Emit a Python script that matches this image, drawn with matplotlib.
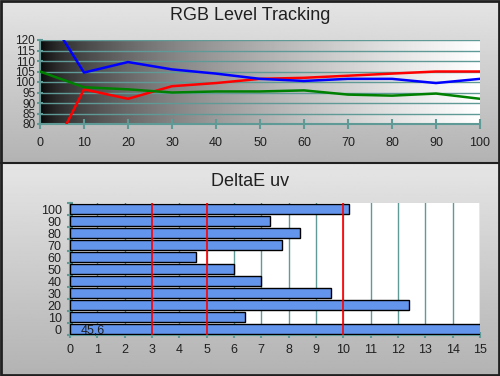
import numpy as np
import matplotlib
matplotlib.use("Agg")
import matplotlib.pyplot as plt
from matplotlib.lines import Line2D

plt.rcParams['font.family'] = ['Liberation Sans', 'DejaVu Sans']

# data
levels = [0, 10, 20, 30, 40, 50, 60, 70, 80, 90, 100]
red_vals = [55, 96.5, 92, 98, 99.5, 101.5, 102, 103, 104, 105, 105]
green_vals = [105, 97.5, 96.5, 95, 95.5, 95.5, 96, 94, 93.5, 94.5, 92]
blue_vals = [138, 104.5, 109.5, 106, 104, 101.5, 100.5, 101.5, 101.5, 99.5, 101.5]

de_labels = ["0", "10", "20", "30", "40", "50", "60", "70", "80", "90", "100"]
de_vals = [45.6, 6.4, 12.4, 9.55, 7.0, 6.0, 4.6, 7.75, 8.4, 7.3, 10.2]
ref_lines = [3, 5, 10]

teal = "#5f9a96"
W, H = 500, 376
fig = plt.figure(figsize=(W / 100, H / 100), dpi=100)

# panel backgrounds (grey gradients, light at top)
grad = np.linspace(1, 0, 256).reshape(-1, 1)
for rect in ([0, 1 - 163 / H, 1, 163 / H], [0, 0, 1, 1 - 163 / H]):
    bg = fig.add_axes(rect, zorder=-10)
    bg.imshow(grad, aspect="auto", cmap="gray", vmin=-3.5, vmax=1.5,
              extent=[0, 1, 0, 1])
    bg.axis("off")

# borders
fig.add_artist(Line2D([0, 1], [1 - 163 / H] * 2, color="#202020", lw=1.5))
fig.add_artist(plt.Rectangle((0.002, 0.003), 0.996, 0.994, fill=False,
                             ec="#202020", lw=2, transform=fig.transFigure))

# ---- RGB Level Tracking ----
ax1 = fig.add_axes([40 / W, 1 - 124 / H, 440 / W, 84 / H])
xs = np.linspace(0, 1, 400)
ax1.imshow((xs ** 0.55).reshape(1, -1), aspect="auto", cmap="gray",
           vmin=0, vmax=1, extent=[0, 100, 80, 120], zorder=0)
ax1.plot(levels, red_vals, color="#ff0000", lw=1.8, zorder=3)
ax1.plot(levels, green_vals, color="#008000", lw=1.8, zorder=3)
ax1.plot(levels, blue_vals, color="#0000ff", lw=1.8, zorder=4)
ax1.set_xlim(0, 100)
ax1.set_ylim(80, 120)
ax1.set_xticks(levels)
ax1.set_yticks(range(80, 121, 5))
for y in range(85, 121, 5):
    ax1.axhline(y, color=teal, lw=1, zorder=2)
for s in ["top", "right"]:
    ax1.spines[s].set_visible(False)
for s in ["left", "bottom"]:
    ax1.spines[s].set_color(teal)
    ax1.spines[s].set_linewidth(1.5)
ax1.tick_params(axis="x", direction="inout", length=7, width=1.5, color=teal,
                labelsize=9, pad=6, labelcolor="#202020")
ax1.tick_params(axis="y", direction="inout", length=5, width=1.5, color=teal,
                labelsize=8.5, pad=1, labelcolor="#202020")
fig.text(0.5, 1 - 15 / H, "RGB Level Tracking", ha="center", va="center",
         fontsize=13, color="#202020")

# ---- DeltaE uv ----
ax2 = fig.add_axes([70 / W, 1 - 335 / H, 410 / W, 132 / H])
ax2.set_facecolor("white")
pos = np.arange(len(de_vals))
ax2.barh(pos, de_vals, height=0.8, color="#6495ed", edgecolor="black",
         lw=1, zorder=3)
for r in ref_lines:
    ax2.axvline(r, color="#ff0000", lw=1.2, zorder=4)
ax2.set_xlim(0, 15)
ax2.set_ylim(-0.5, len(de_vals) - 0.5)
ax2.set_xticks(range(0, 16))
ax2.grid(axis="x", color=teal, lw=1, zorder=1)
ax2.set_yticks(pos)
ax2.set_yticklabels(de_labels)
ax2.set_yticks(np.arange(-0.5, len(de_vals)), minor=True)
for s in ["top", "right"]:
    ax2.spines[s].set_visible(False)
for s in ["left", "bottom"]:
    ax2.spines[s].set_color(teal)
    ax2.spines[s].set_linewidth(1.5)
ax2.tick_params(axis="x", direction="inout", length=5, width=1.5, color=teal,
                labelsize=9, pad=4, labelcolor="#202020")
ax2.tick_params(axis="y", which="major", length=0, labelsize=9, pad=6,
                labelcolor="#202020")
ax2.tick_params(axis="y", which="minor", direction="inout", length=5,
                width=1.5, color=teal)
ax2.text(0.4, -0.1, "45,6", ha="left", va="center",
         fontsize=9, color="#202020", zorder=5)
fig.text(0.5, 1 - 181 / H, "DeltaE uv", ha="center", va="center",
         fontsize=13, color="#202020")

fig.savefig("out.png", dpi=100)
